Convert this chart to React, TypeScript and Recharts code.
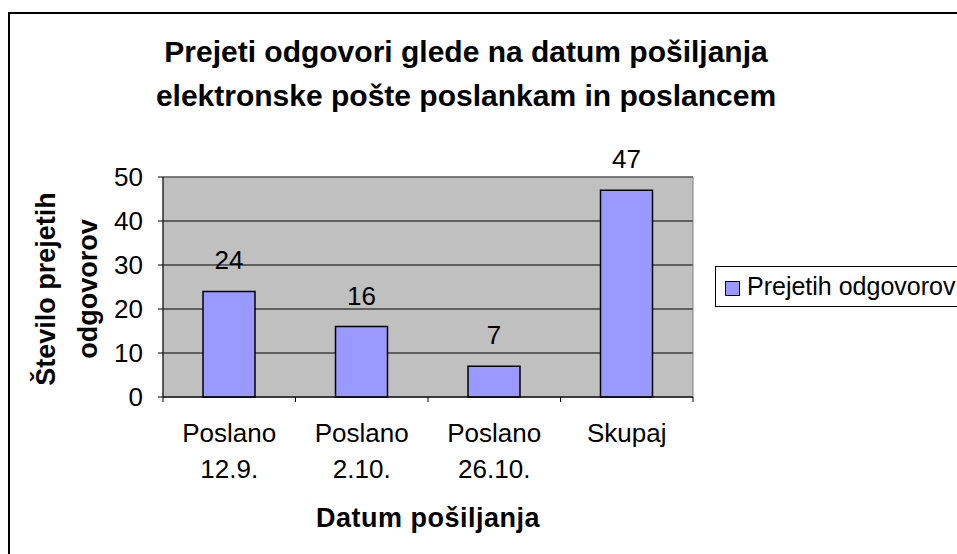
import React from "react";
import {
  BarChart,
  Bar,
  XAxis,
  YAxis,
  CartesianGrid,
  ReferenceArea,
  LabelList,
  Legend,
} from "recharts";

const categories = ["Poslano 12.9.", "Poslano 2.10.", "Poslano 26.10.", "Skupaj"];
const responses = [24, 16, 7, 47];
const yTicks = [0, 10, 20, 30, 40, 50];
const seriesName = "Prejetih odgovorov";

const titleLines = ["Prejeti odgovori glede na datum pošiljanja", "elektronske pošte poslankam in poslancem"];
const yTitleLines = ["Število prejetih", "odgovorov"];
const xTitle = "Datum pošiljanja";

const data = categories.map((name, i) => ({ name, value: responses[i] }));

// plot area in page pixels
const W = 957;
const H = 554;
const PLOT_LEFT = 163;
const PLOT_RIGHT = 693;
const PLOT_TOP = 177;
const PLOT_BOTTOM = 397;
const BAND = (PLOT_RIGHT - PLOT_LEFT) / categories.length;

const FONT = "'Liberation Sans', Arial, sans-serif";
const TXT = 26;

const CategoryTick = (props: any) => {
  const { x, y, payload, index } = props;
  const lines = String(payload.value).split(" ");
  const half = BAND / 2;
  return (
    <g>
      <line x1={x - half} x2={x - half} y1={y} y2={y + 5} stroke="#000" />
      {index === categories.length - 1 && (
        <line x1={x + half} x2={x + half} y1={y} y2={y + 5} stroke="#000" />
      )}
      <text x={x} y={y + 45} textAnchor="middle" fontSize={TXT} fill="#000">
        {lines.map((l, i) => (
          <tspan key={i} x={x} dy={i === 0 ? 0 : 36}>
            {l}
          </tspan>
        ))}
      </text>
    </g>
  );
};

// legend box, zero-size wrapper so it does not squeeze the plot
const LegendBox = () => (
  <div style={{ position: "relative", width: 0, height: 0 }}>
    <div
      style={{
        position: "absolute",
        left: 0,
        top: 0,
        width: 300,
        height: 41,
        border: "1px solid #000",
        background: "#fff",
        fontFamily: FONT,
        fontSize: 25,
        whiteSpace: "nowrap",
        boxSizing: "border-box",
      }}
    >
      <div
        style={{
          position: "absolute",
          left: 9,
          top: 14,
          width: 13,
          height: 13,
          background: "#9999ff",
          border: "1px solid #000",
        }}
      />
      <span style={{ position: "absolute", left: 31, top: 5, lineHeight: "28px" }}>{seriesName}</span>
    </div>
  </div>
);

export default function App() {
  return (
    <div
      style={{
        position: "absolute",
        left: 0,
        top: 0,
        width: W,
        height: H,
        overflow: "hidden",
        background: "#fff",
        fontFamily: FONT,
      }}
    >
      <div
        style={{
          position: "absolute",
          left: 8,
          top: 12,
          width: W + 20,
          height: H + 20,
          borderLeft: "2px solid #000",
          borderTop: "2px solid #000",
        }}
      />
      <BarChart
        width={W}
        height={H}
        data={data}
        margin={{ top: PLOT_TOP, right: W - PLOT_RIGHT, bottom: H - PLOT_BOTTOM - 60, left: PLOT_LEFT - 60 }}
      >
        <CartesianGrid vertical={false} stroke="#000" fill="#c0c0c0" fillOpacity={1} />
        <ReferenceArea y1={0} y2={50} fill="none" stroke="#808080" strokeWidth={1} ifOverflow="visible" />
        <XAxis
          dataKey="name"
          type="category"
          height={60}
          interval={0}
          tickLine={false}
          tickSize={0}
          tickMargin={0}
          axisLine={{ stroke: "#000" }}
          tick={<CategoryTick />}
        />
        <YAxis
          width={60}
          domain={[0, 50]}
          ticks={yTicks}
          interval={0}
          tickSize={5}
          tickMargin={15}
          tickLine={{ stroke: "#000" }}
          axisLine={{ stroke: "#000" }}
          tick={{ fill: "#000", fontSize: TXT }}
        />
        <Legend
          content={<LegendBox />}
          wrapperStyle={{ left: 715, top: 266, width: 0, height: 0, right: "auto", bottom: "auto" }}
        />
        <Bar
          dataKey="value"
          name={seriesName}
          fill="#9999ff"
          stroke="#000"
          strokeWidth={1.5}
          barSize={52}
          isAnimationActive={false}
        >
          <LabelList dataKey="value" position="top" offset={22} fill="#000" fontSize={TXT} />
        </Bar>
      </BarChart>
      <svg
        width={W}
        height={H}
        style={{ position: "absolute", left: 0, top: 0, pointerEvents: "none" }}
      >
        <text x={466} textAnchor="middle" fontSize={30} fontWeight="bold" fill="#000">
          {titleLines.map((l, i) => (
            <tspan key={i} x={466} y={62 + i * 44}>
              {l}
            </tspan>
          ))}
        </text>
        <text
          transform="translate(0, 289) rotate(-90)"
          textAnchor="middle"
          fontSize={27}
          fontWeight="bold"
          fill="#000"
        >
          {yTitleLines.map((l, i) => (
            <tspan key={i} x={0} y={55 + i * 42}>
              {l}
            </tspan>
          ))}
        </text>
        <text
          x={428}
          y={527}
          textAnchor="middle"
          fontSize={27}
          fontWeight="bold"
          letterSpacing={0.5}
          fill="#000"
        >
          {xTitle}
        </text>
      </svg>
    </div>
  );
}
